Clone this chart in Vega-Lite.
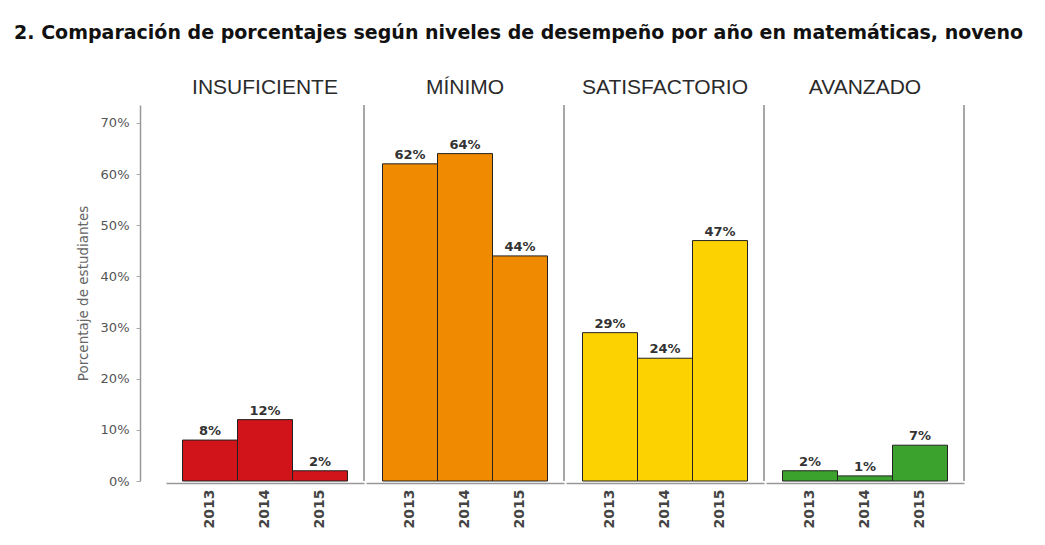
{
  "$schema": "https://vega.github.io/schema/vega-lite/v6.json",
  "background": "white",
  "padding": {"left": 14, "top": 24, "right": 5, "bottom": 5},
  "title": {
    "text": "2. Comparación de porcentajes según niveles de desempeño por año en matemáticas, noveno",
    "anchor": "start",
    "frame": "bounds",
    "dx": -62,
    "font": "DejaVu Sans",
    "fontSize": 19,
    "fontWeight": "bold",
    "color": "#111111",
    "offset": 34
  },
  "data": {
    "values": [
      {"nivel": "INSUFICIENTE", "anio": "2013", "valor": 0.08},
      {"nivel": "INSUFICIENTE", "anio": "2014", "valor": 0.12},
      {"nivel": "INSUFICIENTE", "anio": "2015", "valor": 0.02},
      {"nivel": "MÍNIMO", "anio": "2013", "valor": 0.62},
      {"nivel": "MÍNIMO", "anio": "2014", "valor": 0.64},
      {"nivel": "MÍNIMO", "anio": "2015", "valor": 0.44},
      {"nivel": "SATISFACTORIO", "anio": "2013", "valor": 0.29},
      {"nivel": "SATISFACTORIO", "anio": "2014", "valor": 0.24},
      {"nivel": "SATISFACTORIO", "anio": "2015", "valor": 0.47},
      {"nivel": "AVANZADO", "anio": "2013", "valor": 0.02},
      {"nivel": "AVANZADO", "anio": "2014", "valor": 0.01},
      {"nivel": "AVANZADO", "anio": "2015", "valor": 0.07}
    ]
  },
  "facet": {
    "column": {
      "field": "nivel",
      "type": "nominal",
      "sort": ["INSUFICIENTE", "MÍNIMO", "SATISFACTORIO", "AVANZADO"],
      "header": {
        "title": null,
        "labelFont": "Liberation Sans",
        "labelFontSize": 21,
        "labelColor": "#2a2a2a",
        "labelPadding": 6
      }
    }
  },
  "spacing": 0,
  "spec": {
    "width": 198,
    "height": 376,
    "encoding": {
      "x": {
        "field": "anio",
        "type": "ordinal",
        "scale": {"paddingInner": 0, "paddingOuter": 0.3},
        "axis": {
          "title": null,
          "labelAngle": -90,
          "labelFont": "DejaVu Sans",
          "labelFontSize": 14,
          "labelFontWeight": "bold",
          "labelColor": "#444444",
          "labelPadding": 6,
          "ticks": false,
          "domainColor": "#999999",
          "domainWidth": 1.5
        }
      },
      "y": {
        "field": "valor",
        "type": "quantitative",
        "scale": {"domain": [0, 0.735], "nice": false},
        "axis": {
          "title": "Porcentaje de estudiantes",
          "titleFont": "DejaVu Sans",
          "titleFontSize": 13.5,
          "titleFontWeight": "normal",
          "titleColor": "#666666",
          "titlePadding": 10,
          "values": [0, 0.1, 0.2, 0.3, 0.4, 0.5, 0.6, 0.7],
          "format": ".0%",
          "labelFont": "DejaVu Sans",
          "labelFontSize": 13,
          "labelColor": "#555555",
          "labelPadding": 7,
          "tickSize": 4,
          "tickColor": "#aaaaaa",
          "domainColor": "#999999",
          "domainWidth": 1.5,
          "grid": false,
          "offset": 25
        }
      }
    },
    "layer": [
      {
        "mark": {"type": "bar", "stroke": "#222222", "strokeWidth": 1},
        "encoding": {
          "color": {
            "field": "nivel",
            "type": "nominal",
            "scale": {
              "domain": ["INSUFICIENTE", "MÍNIMO", "SATISFACTORIO", "AVANZADO"],
              "range": ["#d0141a", "#f08a00", "#fcd200", "#3ba32d"]
            },
            "legend": null
          }
        }
      },
      {
        "mark": {"type": "text", "dy": -9, "font": "DejaVu Sans", "fontSize": 13, "fontWeight": "bold", "color": "#333333"},
        "encoding": {
          "text": {"field": "valor", "type": "quantitative", "format": ".0%"}
        }
      }
    ]
  },
  "config": {
    "view": {"stroke": "#8a8a8a", "strokeWidth": 1.5, "strokeDash": [0, 198, 376, 574]}
  }
}
